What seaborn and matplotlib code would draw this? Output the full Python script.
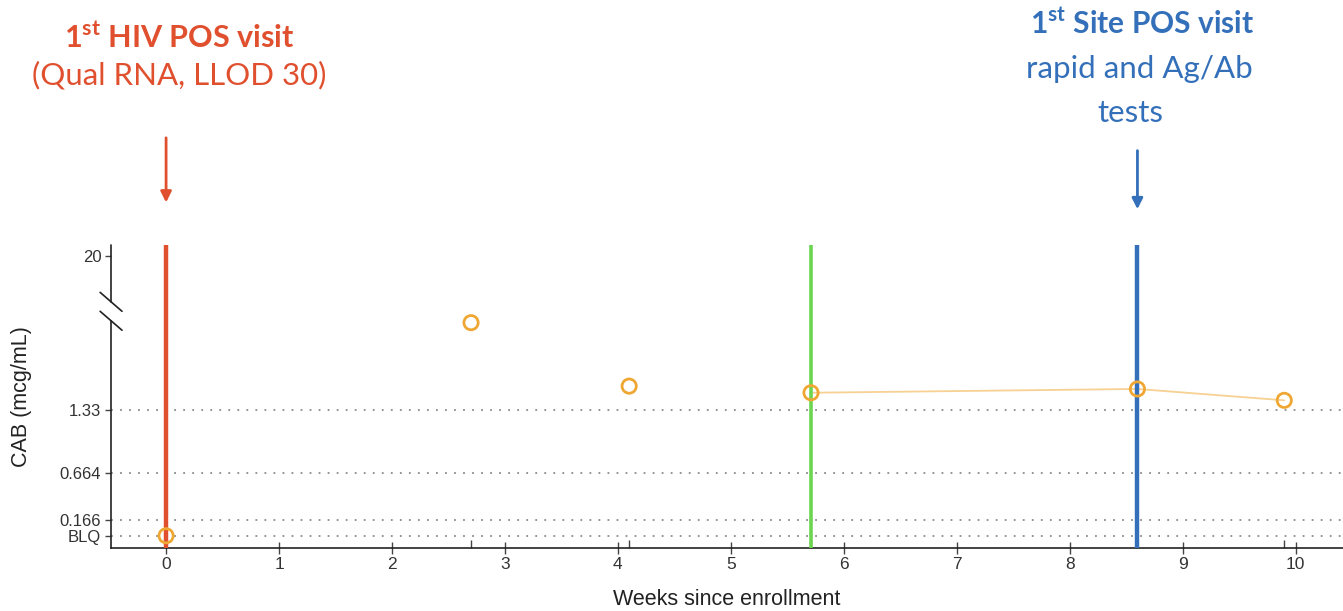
import numpy as np
import pandas as pd
import matplotlib.pyplot as plt
import matplotlib.transforms as mtransforms
import seaborn as sns

sns.set_style('ticks')
plt.rcParams['font.family'] = ['Liberation Sans', 'DejaVu Sans']

## Data
weeks = [0.0, 2.7, 4.1, 5.71, 8.6, 9.9]
cab = [0.0, 2.25, 1.58, 1.51, 1.55, 1.43]      # BLQ drawn at 0
linked_weeks = [5.71, 8.6, 9.9]
linked_cab = [1.51, 1.55, 1.43]

ytick_vals = [0.0, 0.166, 0.664, 1.33]
ytick_labels = ['BLQ', '0.166', '0.664', '1.33']
top_label = '20'
top_pos = 2.95          # where the "20" sits above the axis break

hiv_pos_week = 0.0
green_week = 5.71
site_pos_week = 8.6
xticks = list(range(0, 11))

red = '#E0502F'
blue = '#3470BA'
green = '#6CD650'
orange = '#EFA733'

df = pd.DataFrame({'week': weeks, 'cab': cab})
df_line = pd.DataFrame({'week': linked_weeks, 'cab': linked_cab})

fig = plt.figure(figsize=(13.43, 6.11), dpi=100)
ax = fig.add_axes([0.0827, 0.103, 0.9173, 0.496])

# dotted reference lines
for v in ytick_vals:
    ax.axhline(v, color='#8a8a8a', lw=1.3, ls=(0, (1, 4)), zorder=1)

# event lines
ax.axvline(hiv_pos_week, color=red, lw=3.2, zorder=3)
ax.axvline(green_week, color=green, lw=2.6, zorder=3)
ax.axvline(site_pos_week, color=blue, lw=3.2, zorder=3)

sns.lineplot(data=df_line, x='week', y='cab', color='#F7D193', lw=1.3, ax=ax, zorder=2)
sns.scatterplot(data=df, x='week', y='cab', s=105, color=orange, edgecolor=orange,
                linewidth=2, ax=ax, zorder=4)
ax.collections[-1].set_facecolor('none')

ax.set_xlim(-0.487, 10.42)
ax.set_ylim(-0.13, 3.07)
ax.set_xticks(xticks)
ax.set_xticks(weeks, minor=True)
ax.tick_params(axis='x', which='minor', direction='in', length=6, width=1, color='#444')
ax.tick_params(axis='x', which='major', direction='inout', length=9, width=1, color='#444',
               labelsize=12.5, labelcolor='#333', pad=2)
ax.set_yticks(ytick_vals + [top_pos])
ax.set_yticklabels(ytick_labels + [top_label])
ax.tick_params(axis='y', length=4, width=1, color='#444', labelsize=12, labelcolor='#333', pad=3)

ax.set_xlabel('Weeks since enrollment', fontsize=15.5, color='#222', labelpad=12)
ax.set_ylabel('CAB (mcg/mL)', fontsize=15.5, color='#222', labelpad=20)

sns.despine(ax=ax)
for s in ['left', 'bottom']:
    ax.spines[s].set_color('#222')
    ax.spines[s].set_linewidth(1.2)

# axis break on the left spine
gap_lo, gap_hi = 2.27, 2.47
ax.spines['left'].set_bounds(-0.13, gap_lo)
x0 = ax.get_xlim()[0]
ax.plot([x0, x0], [gap_hi, 3.07], color='#222', lw=1.2, clip_on=False, zorder=5)
dx = 0.097
for yc in (gap_lo, gap_hi):
    ax.plot([x0 - dx, x0 + dx], [yc + 0.1, yc - 0.1], color='#222', lw=1.2,
            clip_on=False, zorder=5)

# annotations above the plot
trans = mtransforms.blended_transform_factory(ax.transData, fig.transFigure)
fam = ['Lato', 'DejaVu Sans']
ax.text(hiv_pos_week + 0.12, 0.939, r'1$^{\mathregular{st}}$ HIV POS visit', transform=trans,
        ha='center', va='center', fontsize=22, fontweight='bold', color=red, family=fam)
ax.text(hiv_pos_week + 0.12, 0.877, '(Qual RNA, LLOD 30)', transform=trans,
        ha='center', va='center', fontsize=22.5, color=red, family=fam)
ax.annotate('', xy=(hiv_pos_week, 0.664), xytext=(hiv_pos_week, 0.779),
            xycoords=trans, textcoords=trans,
            arrowprops=dict(arrowstyle='-|>', color=red, lw=2, mutation_scale=16))

ax.text(site_pos_week + 0.04, 0.962, r'1$^{\mathregular{st}}$ Site POS visit', transform=trans,
        ha='center', va='center', fontsize=21.5, fontweight='bold', color=blue, family=fam)
ax.text(site_pos_week + 0.02, 0.887, 'rapid and Ag/Ab', transform=trans,
        ha='center', va='center', fontsize=22.5, color=blue, family=fam)
ax.text(site_pos_week - 0.06, 0.815, 'tests', transform=trans,
        ha='center', va='center', fontsize=22.5, color=blue, family=fam)
ax.annotate('', xy=(site_pos_week, 0.653), xytext=(site_pos_week, 0.758),
            xycoords=trans, textcoords=trans,
            arrowprops=dict(arrowstyle='-|>', color=blue, lw=2, mutation_scale=16))

fig.savefig('out.png', dpi=100)
